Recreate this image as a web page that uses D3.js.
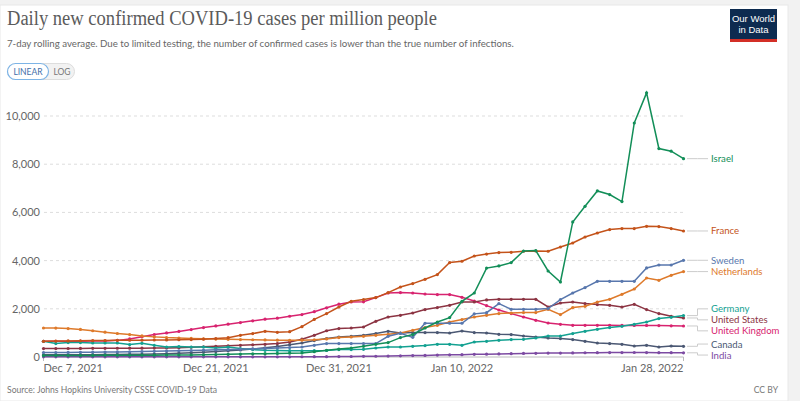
<!DOCTYPE html>
<html>
<head>
<meta charset="utf-8">
<script src="https://cdn.jsdelivr.net/npm/d3@7"></script>
<style>
  body { margin: 0; background: #f2f2f2; }
  svg { display: block; font-family: Lato, "Noto Sans", sans-serif; }
</style>
</head>
<body>
<svg id="chart" width="800" height="401"></svg>
<script>
// One point per day, Dec 7 2021 .. Jan 28 2022
const firstDay = new Date(2021, 11, 7);
const lastDay = new Date(2022, 0, 28);
const days = d3.timeDay.range(firstDay, d3.timeDay.offset(lastDay, 1));

const xTickDates = [new Date(2021, 11, 7), new Date(2021, 11, 21), new Date(2021, 11, 31), new Date(2022, 0, 10), new Date(2022, 0, 28)];
const xTickLabels = ["Dec 7, 2021", "Dec 21, 2021", "Dec 31, 2021", "Jan 10, 2022", "Jan 28, 2022"];
const yTicks = [0, 2000, 4000, 6000, 8000, 10000];

const countryNames = ["Israel", "France", "Sweden", "Netherlands", "Germany", "United States", "United Kingdom", "Canada", "India"];
const countryColors = ["#128e58", "#c4531a", "#5877ad", "#de7a2b", "#13a191", "#8c3443", "#d8236f", "#4b5873", "#7c4aa2"];

// cases per million, 7-day average
const israel = [60, 60, 62, 64, 66, 68, 70, 72, 74, 76,
  78, 80, 85, 90, 100, 110, 120, 130, 140, 150,
  160, 170, 220, 280, 330, 374, 444, 527, 598, 805,
  930, 1204, 1453, 1635, 2312, 2656, 3690, 3777, 3918, 4399,
  4415, 3569, 3113, 5603, 6254, 6890, 6740, 6450, 9710, 10960,
  8650, 8540, 8230];
const france = [652, 660, 668, 675, 680, 685, 690, 695, 700, 705,
  710, 715, 725, 740, 765, 800, 900, 971, 1066, 1025,
  1050, 1260, 1560, 1800, 2075, 2312, 2382, 2465, 2673, 2905,
  3046, 3225, 3420, 3918, 3972, 4190, 4270, 4333, 4345, 4387,
  4399, 4387, 4565, 4731, 4980, 5146, 5287, 5329, 5329, 5424,
  5412, 5329, 5229];
const sweden = [185, 185, 190, 195, 200, 205, 210, 215, 225, 235,
  245, 260, 270, 285, 300, 310, 320, 340, 355, 370,
  390, 415, 486, 556, 556, 556, 556, 556, 859, 980,
  815, 1400, 1400, 1400, 1400, 1790, 1840, 2216, 1980, 1980,
  1980, 2009, 2382, 2656, 2880, 3142, 3142, 3142, 3142, 3694,
  3818, 3818, 4013];
const netherlands = [1204, 1200, 1178, 1145, 1090, 1030, 975, 930, 875, 835,
  805, 789, 770, 755, 745, 735, 725, 715, 710, 700,
  695, 700, 715, 750, 805, 830, 859, 900, 942, 996,
  1108, 1220, 1316, 1453, 1552, 1660, 1730, 1801, 1826, 1843,
  1843, 1980, 1760, 2050, 2104, 2283, 2395, 2602, 2822, 3279,
  3183, 3391, 3544];
const germany = [652, 556, 598, 598, 580, 580, 580, 515, 569, 486,
  415, 432, 415, 415, 374, 415, 349, 307, 278, 270,
  262, 255, 262, 270, 307, 307, 320, 374, 415, 415,
  444, 473, 527, 527, 486, 623, 652, 693, 722, 735,
  789, 872, 872, 971, 1066, 1150, 1220, 1274, 1357, 1453,
  1593, 1648, 1718];
const unitedStates = [349, 350, 352, 355, 358, 360, 363, 365, 368, 372,
  378, 388, 405, 425, 445, 465, 486, 505, 525, 556,
  620, 740, 900, 1090, 1178, 1204, 1245, 1482, 1660, 1730,
  1826, 1967, 2050, 2146, 2283, 2283, 2370, 2395, 2395, 2395,
  2395, 2075, 2241, 2283, 2216, 2175, 2146, 2075, 2187, 1967,
  1801, 1689, 1619];
const unitedKingdom = [650, 650, 652, 655, 660, 665, 690, 750, 840, 930,
  1000, 1060, 1140, 1220, 1290, 1360, 1430, 1500, 1570, 1610,
  1690, 1760, 1880, 2040, 2190, 2283, 2290, 2465, 2656, 2673,
  2656, 2615, 2590, 2590, 2478, 2324, 2130, 1950, 1801, 1660,
  1523, 1411, 1357, 1316, 1316, 1316, 1316, 1310, 1310, 1310,
  1303, 1295, 1287];
const canada = [90, 90, 92, 95, 98, 100, 105, 110, 115, 125,
  140, 160, 180, 200, 225, 255, 290, 330, 380, 440,
  510, 581, 680, 763, 830, 859, 900, 971, 1066, 996,
  1012, 1012, 1012, 996, 1079, 1012, 996, 942, 930, 872,
  830, 789, 763, 722, 652, 581, 556, 527, 457, 486,
  415, 457, 444];
const india = [6, 6, 6, 6, 6, 6, 6, 6, 6, 6,
  6, 6, 6, 6, 6, 6, 6, 7, 7, 8,
  9, 10, 12, 14, 17, 21, 26, 32, 40, 48,
  58, 66, 80, 90, 96, 110, 116, 127, 140, 147,
  153, 162, 164, 171, 176, 179, 184, 184, 187, 185,
  181, 179, 174];

const seriesValues = [israel, france, sweden, netherlands, germany, unitedStates, unitedKingdom, canada, india];

const series = countryNames.map((name, i) => ({
  name: name,
  color: countryColors[i],
  points: seriesValues[i].map((v, j) => ({ date: days[j], value: v }))
}));

const svg = d3.select("#chart");

// card background
svg.append("rect").attr("x", 0).attr("y", 5).attr("width", 788).attr("height", 396)
  .attr("fill", "#fff").attr("stroke", "#e8e8e8");

// scales
const xScale = d3.scaleTime().domain([firstDay, lastDay]).range([43.5, 683.5]);
const yScale = d3.scaleLinear().domain([0, 10000]).range([357, 116]);

// header
svg.append("text")
  .attr("x", 7).attr("y", 25)
  .attr("font-family", "'Liberation Serif', 'DejaVu Serif', serif")
  .attr("font-size", 20.5).attr("fill", "#5b5b5b")
  .attr("textLength", 430).attr("lengthAdjust", "spacingAndGlyphs")
  .text("Daily new confirmed COVID-19 cases per million people");

svg.append("text")
  .attr("x", 7).attr("y", 47)
  .attr("font-size", 9.7).attr("fill", "#666")
  .text("7-day rolling average. Due to limited testing, the number of confirmed cases is lower than the true number of infections.");

// linear / log toggle
const toggle = svg.append("g").attr("transform", "translate(7,63)");
toggle.append("rect").attr("x", 0.5).attr("y", 0.5).attr("width", 67).attr("height", 16).attr("rx", 8)
  .attr("fill", "#f2f2f2").attr("stroke", "#ddd");
toggle.append("rect").attr("x", 0.5).attr("y", 0.5).attr("width", 41).attr("height", 16).attr("rx", 8)
  .attr("fill", "#fff").attr("stroke", "#7db4e6").attr("stroke-width", 1.2);
toggle.append("text").attr("x", 21).attr("y", 12).attr("text-anchor", "middle")
  .attr("font-size", 8.5).attr("fill", "#3f6ea8").text("LINEAR");
toggle.append("text").attr("x", 55).attr("y", 12).attr("text-anchor", "middle")
  .attr("font-size", 8.5).attr("fill", "#777").text("LOG");

// logo
const logo = svg.append("g").attr("transform", "translate(730,9)");
logo.append("rect").attr("width", 47).attr("height", 33).attr("fill", "#0d2b50");
logo.append("rect").attr("y", 30).attr("width", 47).attr("height", 3).attr("fill", "#d32f26");
logo.append("text").attr("x", 23.5).attr("y", 13).attr("text-anchor", "middle")
  .attr("font-size", 9.5).attr("fill", "#fff").attr("font-family", "'Liberation Sans Narrow', 'Liberation Sans', sans-serif")
  .text("Our World");
logo.append("text").attr("x", 23.5).attr("y", 24).attr("text-anchor", "middle")
  .attr("font-size", 9.5).attr("fill", "#fff").attr("font-family", "'Liberation Sans Narrow', 'Liberation Sans', sans-serif")
  .text("in Data");

// gridlines + y labels
const yAxis = svg.append("g").attr("class", "y-axis");
yAxis.selectAll("line")
  .data(yTicks.filter(d => d > 0))
  .join("line")
  .attr("x1", 44).attr("x2", 683)
  .attr("y1", d => yScale(d)).attr("y2", d => yScale(d))
  .attr("stroke", "#ddd").attr("stroke-dasharray", "3,3");
yAxis.selectAll("text")
  .data(yTicks)
  .join("text")
  .attr("x", 40).attr("y", d => yScale(d) + 4)
  .attr("text-anchor", "end")
  .attr("font-size", 11).attr("fill", "#666")
  .text(d => d3.format(",")(d));

// x axis
const xAxis = svg.append("g").attr("class", "x-axis");
xAxis.append("line")
  .attr("x1", xScale(firstDay)).attr("x2", xScale(lastDay))
  .attr("y1", yScale(0)).attr("y2", yScale(0))
  .attr("stroke", "#bbb");
xAxis.selectAll("line.tick")
  .data([firstDay, lastDay])
  .join("line")
  .attr("class", "tick")
  .attr("x1", d => xScale(d)).attr("x2", d => xScale(d))
  .attr("y1", yScale(0)).attr("y2", yScale(0) + 4)
  .attr("stroke", "#bbb");
xAxis.selectAll("text")
  .data(xTickDates)
  .join("text")
  .attr("x", d => xScale(d))
  .attr("y", 372)
  .attr("text-anchor", (d, i) => i === 0 ? "start" : (i === xTickDates.length - 1 ? "end" : "middle"))
  .attr("font-size", 11).attr("fill", "#666")
  .text((d, i) => xTickLabels[i]);

// lines and markers
const line = d3.line().x(d => xScale(d.date)).y(d => yScale(d.value));
const lines = svg.append("g").attr("class", "lines");

// draw bottom series first so the big ones sit on top
const drawOrder = series.slice().reverse();
drawOrder.forEach(s => {
  const g = lines.append("g");
  g.append("path")
    .datum(s.points)
    .attr("d", line)
    .attr("fill", "none")
    .attr("stroke", s.color)
    .attr("stroke-width", 1.5);
  g.selectAll("circle")
    .data(s.points)
    .join("circle")
    .attr("cx", d => xScale(d.date))
    .attr("cy", d => yScale(d.value))
    .attr("r", 1.6)
    .attr("fill", s.color);
});

// end labels, pushed apart so they don't overlap
function spreadLabels(items, gap) {
  let groups = items.map(d => ({ members: [d] }));
  const place = g => {
    const mean = d3.mean(g.members, d => d.target);
    g.top = mean - (g.members.length - 1) * gap / 2;
  };
  groups.forEach(place);
  let merged = true;
  while (merged) {
    merged = false;
    for (let i = 1; i < groups.length; i++) {
      const prev = groups[i - 1], cur = groups[i];
      if (prev.top + prev.members.length * gap > cur.top) {
        prev.members = prev.members.concat(cur.members);
        place(prev);
        groups.splice(i, 1);
        merged = true;
        break;
      }
    }
  }
  groups.forEach(g => g.members.forEach((d, k) => { d.labelY = g.top + k * gap; }));
}

const labelItems = series.map(s => ({
  name: s.name,
  color: s.color,
  target: yScale(s.points[s.points.length - 1].value)
})).sort((a, b) => a.target - b.target);
spreadLabels(labelItems, 11);

const labels = svg.append("g").attr("class", "labels");
labels.selectAll("path")
  .data(labelItems)
  .join("path")
  .attr("d", d => `M687,${d.target}H697.5V${d.labelY}H708`)
  .attr("fill", "none")
  .attr("stroke", "#ccc");
labels.selectAll("text")
  .data(labelItems)
  .join("text")
  .attr("x", 711)
  .attr("y", d => d.labelY + 3.5)
  .attr("font-size", 9.6)
  .attr("fill", d => d.color)
  .text(d => d.name);

// footer
svg.append("text").attr("x", 7).attr("y", 393)
  .attr("font-size", 8.6).attr("fill", "#777")
  .text("Source: Johns Hopkins University CSSE COVID-19 Data");
svg.append("text").attr("x", 778).attr("y", 393).attr("text-anchor", "end")
  .attr("font-size", 8.6).attr("fill", "#777")
  .text("CC BY");
</script>
</body>
</html>
